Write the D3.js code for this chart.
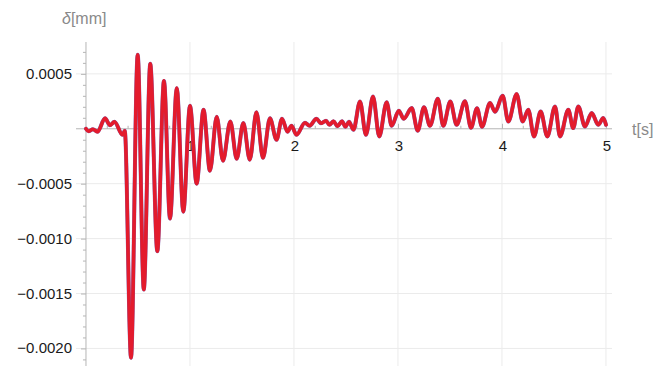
<!DOCTYPE html>
<html>
<head>
<meta charset="utf-8">
<script src="https://cdn.jsdelivr.net/npm/d3@7/dist/d3.min.js"></script>
<style>
  html, body { margin: 0; padding: 0; background: #fff; }
  svg { display: block; font-family: "Liberation Sans", Arial, sans-serif; }
</style>
</head>
<body>
<svg id="chart" width="656" height="373"></svg>
<script>
// Displacement response: turning points (time in s, displacement in mm)
const times = [
  0, 0.024, 0.067, 0.111, 0.183, 0.231, 0.274, 0.351, 0.373,
  0.433, 0.497, 0.556, 0.618, 0.686, 0.750, 0.808, 0.873, 0.936, 1.000,
  1.064, 1.130, 1.192, 1.257, 1.317, 1.388, 1.449, 1.513, 1.575, 1.639,
  1.702, 1.769, 1.832, 1.885, 1.938, 1.976, 2.024, 2.106, 2.149, 2.216,
  2.260, 2.308, 2.341, 2.380, 2.418, 2.462, 2.495, 2.529, 2.572, 2.635,
  2.692, 2.760, 2.820, 2.891, 2.939, 3.008, 3.055, 3.132, 3.190, 3.250,
  3.308, 3.383, 3.436, 3.503, 3.564, 3.644, 3.702, 3.760, 3.808, 3.885,
  3.933, 4.007, 4.061, 4.141, 4.199, 4.253, 4.308, 4.372, 4.436, 4.510,
  4.558, 4.638, 4.685, 4.734, 4.798, 4.863, 4.926, 4.974, 5.000
];
const displacement = [
  0, -0.000023, -0.000005, -0.000027, 0.000095, 0.000032, 0.000064, -0.000055, -0.000018,
  -0.002085, 0.000673, -0.001464, 0.000591, -0.001115, 0.000436, -0.000818, 0.000370, -0.000755, 0.000209,
  -0.000500, 0.000173, -0.000382, 0.000109, -0.000291, 0.000066, -0.000273, 0.000052, -0.000282, 0.000150,
  -0.000264, 0.000095, -0.000100, 0.000091, -0.000027, 0.000027, -0.000055, 0.000055, 0.000027, 0.000091,
  0.000050, 0.000073, 0.000036, 0.000068, 0.000023, 0.000068, 0.000018, 0.000064, -0.000009, 0.000248,
  -0.000055, 0.000294, -0.000070, 0.000241, 0.000027, 0.000164, 0.000091, 0.000188, -0.000018, 0.000195,
  0.000027, 0.000273, 0.000027, 0.000248, 0.000036, 0.000250, 0.000009, 0.000186, 0.000018, 0.000234,
  0.000155, 0.000300, 0.000066, 0.000315, 0.000066, 0.000173, -0.000070, 0.000157, -0.000070, 0.000203,
  -0.000070, 0.000173, 0.000006, 0.000203, 0.000021, 0.000143, 0.000036, 0.000097, 0.000036
];

const xTicks = [1, 2, 3, 4, 5];
const yTicks = [0.0005, -0.0005, -0.0010, -0.0015, -0.0020];
const yTickLabels = ["0.0005", "\u22120.0005", "\u22120.0010", "\u22120.0015", "\u22120.0020"];

const svg = d3.select("#chart");

const x = d3.scaleLinear().domain([-0.096, 5.058]).range([76, 612]);
const y = d3.scaleLinear().domain([-0.00216, 0.00079]).range([366, 42]);

const gridColor = "#ebebeb";
const axisColor = "#b5b5b5";

// grid
svg.append("g").selectAll("line").data(xTicks).join("line")
  .attr("x1", d => x(d)).attr("x2", d => x(d))
  .attr("y1", y.range()[1]).attr("y2", y.range()[0])
  .attr("stroke", gridColor).attr("stroke-width", 1);
svg.append("g").selectAll("line").data(yTicks).join("line")
  .attr("x1", x.range()[0]).attr("x2", x.range()[1])
  .attr("y1", d => y(d)).attr("y2", d => y(d))
  .attr("stroke", gridColor).attr("stroke-width", 1);

// x axis through zero
const xAxis = d3.axisTop(x)
  .tickValues(d3.range(0.2, 5.01, 0.2).filter(v => Math.abs(v - Math.round(v)) > 1e-6))
  .tickSize(3).tickFormat("");
const gx = svg.append("g").attr("transform", `translate(0,${y(0)})`).call(xAxis);
gx.selectAll("line").attr("stroke", axisColor);
gx.select(".domain").remove();
const gxMajor = svg.append("g").attr("transform", `translate(0,${y(0)})`)
  .call(d3.axisTop(x).tickValues(xTicks).tickSize(5).tickFormat(""));
gxMajor.selectAll("line").attr("stroke", axisColor);
gxMajor.select(".domain").remove();
svg.append("line")
  .attr("x1", x.range()[0]).attr("x2", x.range()[1])
  .attr("y1", y(0)).attr("y2", y(0))
  .attr("stroke", axisColor).attr("stroke-width", 1);

// y axis at t = 0
const yMinor = d3.range(-0.0021, 0.00075, 0.0001).filter(v => Math.abs(v / 0.0005 - Math.round(v / 0.0005)) > 1e-6);
const gy = svg.append("g").attr("transform", `translate(${x(0)},0)`)
  .call(d3.axisLeft(y).tickValues(yMinor).tickSize(3).tickFormat(""));
gy.selectAll("line").attr("stroke", axisColor);
gy.select(".domain").remove();
const gyMajor = svg.append("g").attr("transform", `translate(${x(0)},0)`)
  .call(d3.axisLeft(y).tickValues(yTicks).tickSize(5).tickFormat(""));
gyMajor.selectAll("line").attr("stroke", axisColor);
gyMajor.select(".domain").remove();
svg.append("line")
  .attr("x1", x(0)).attr("x2", x(0))
  .attr("y1", y.range()[1]).attr("y2", y.range()[0])
  .attr("stroke", axisColor).attr("stroke-width", 1);

// tick labels
svg.append("g").selectAll("text").data(xTicks).join("text")
  .attr("x", d => x(d) + 1).attr("y", y(0) + 22)
  .attr("text-anchor", "middle").attr("font-size", 15).attr("fill", "#1a1a1a")
  .text(d => d);
svg.append("g").selectAll("text").data(yTicks).join("text")
  .attr("x", 72).attr("y", d => y(d) + 5)
  .attr("text-anchor", "end").attr("font-size", 15).attr("fill", "#1a1a1a")
  .text((d, i) => yTickLabels[i]);

// axis titles
const yt = svg.append("text").attr("x", 62).attr("y", 24)
  .attr("font-size", 16).attr("fill", "#8a8a8a");
yt.append("tspan").attr("font-style", "italic").text("δ");
yt.append("tspan").text("[mm]");
svg.append("text").attr("x", 632).attr("y", 135)
  .attr("font-size", 16).attr("fill", "#8a8a8a").text("t[s]");

// response curve
const pts = times.map((t, i) => [t, displacement[i]]);
const line = d3.line().x(d => x(d[0])).y(d => y(d[1])).curve(d3.curveMonotoneX);
svg.append("path").attr("d", line(pts))
  .attr("fill", "none").attr("stroke", "#7a6cb8").attr("stroke-width", 4.0)
  .attr("stroke-linejoin", "round").attr("stroke-linecap", "round");
svg.append("path").attr("d", line(pts))
  .attr("fill", "none").attr("stroke", "#e31b2d").attr("stroke-width", 3.6)
  .attr("stroke-linejoin", "round").attr("stroke-linecap", "round");
</script>
</body>
</html>
